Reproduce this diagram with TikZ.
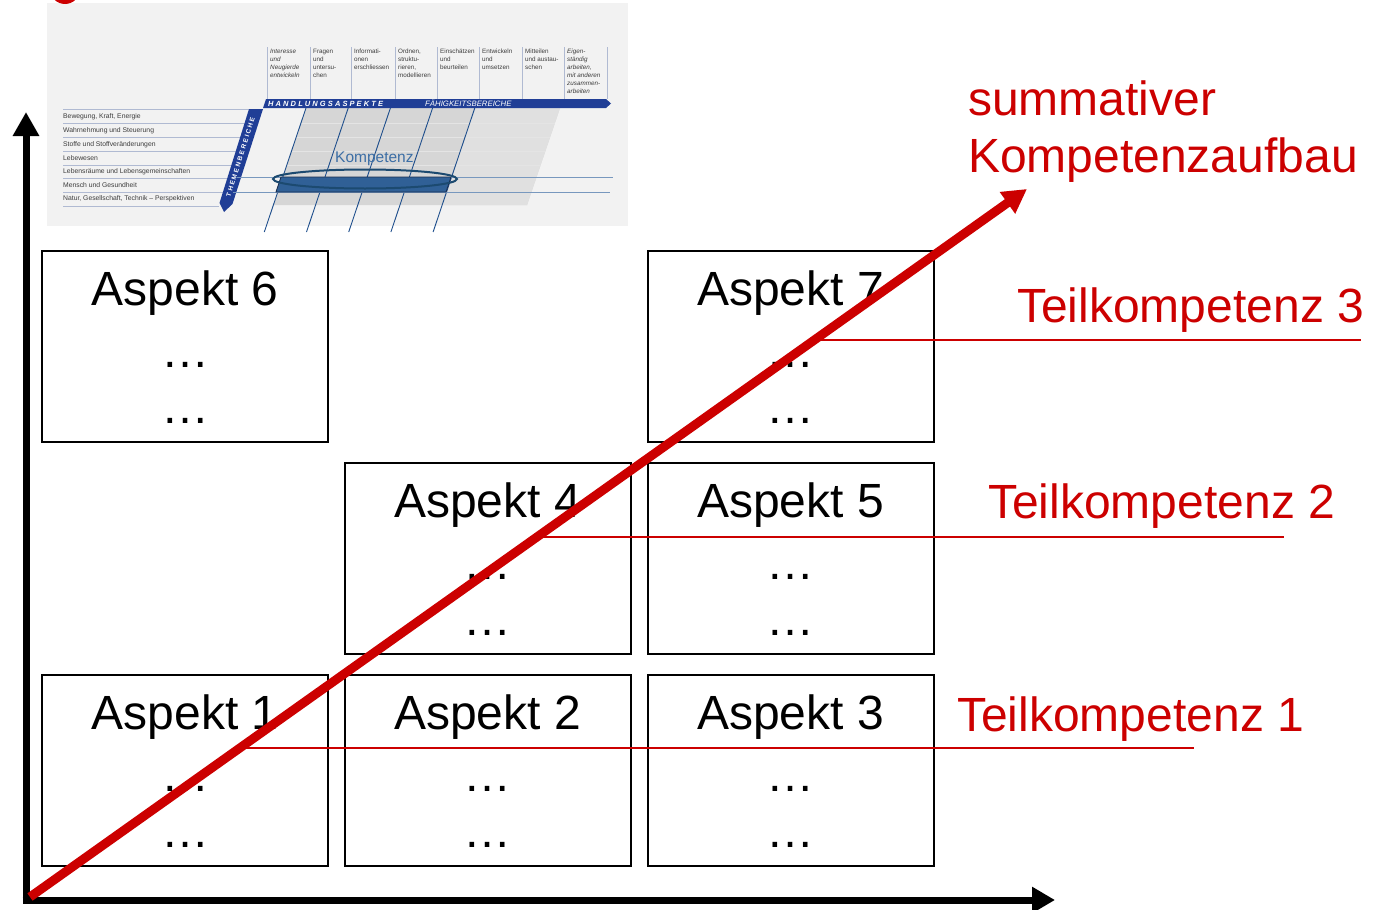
\documentclass[tikz,border=0pt]{standalone}
\usepackage{fontspec}
\setmainfont{Liberation Sans}
\usetikzlibrary{arrows.meta,calc}
\definecolor{kred}{RGB}{204,0,0}
\definecolor{insetbg}{RGB}{242,242,242}
\definecolor{grayA}{RGB}{214,214,214}
\definecolor{grayB}{RGB}{224,224,224}
\definecolor{grayline}{RGB}{228,228,228}
\definecolor{sepcol}{RGB}{176,186,210}
\definecolor{barblue}{RGB}{32,62,150}
\definecolor{gridblue}{RGB}{30,78,140}
\definecolor{hlineblue}{RGB}{120,152,190}
\definecolor{bandblue}{RGB}{48,96,150}
\definecolor{bandedge}{RGB}{25,45,80}
\definecolor{ellblue}{RGB}{28,74,112}
\definecolor{kompblue}{RGB}{60,110,165}
\definecolor{smalltext}{RGB}{60,60,60}
\tikzset{
  abox/.style={draw=black, line width=2pt, minimum width=286pt, minimum height=191pt, inner sep=0pt, fill=white},
  atitle/.style={anchor=base, inner sep=0pt, font=\fontsize{48}{58}\selectfont},
  adots/.style={anchor=base, inner sep=0pt, font=\fontsize{48}{58}\selectfont},
  redtext/.style={anchor=base west, inner sep=0pt, text=kred, font=\fontsize{48}{58}\selectfont},
  axis/.style={line width=7pt, black, line join=miter},
  redarrow/.style={line width=9pt, kred, -{Triangle[length=24pt,width=25pt]}},
  redline/.style={line width=1.8pt, kred},
  rowtext/.style={anchor=west, inner sep=0pt, text=smalltext, font=\fontsize{6.8}{8}\selectfont},
  coltext/.style={anchor=north west, inner sep=0pt, align=left, text=smalltext, font=\fontsize{6.3}{7.9}\selectfont},
  sepline/.style={sepcol, line width=0.9pt},
}
\begin{document}
\begin{tikzpicture}[x=1pt,y=-1pt]
\useasboundingbox (0,0) rectangle (1376,910);
% ---------------- inset (Kompetenzmodell) ----------------
\fill[insetbg] (47,3) rectangle (628,226);
\fill[kred] (65,-11) circle (15);
% gray matrix area
\fill[grayA] (306,108) -- (560,108) -- (527,205) -- (273.4,205) -- cycle;
\fill[grayB] (475,108) -- (560,108) -- (527,205) -- (442,205) -- cycle;
\foreach \y in {123,137,151,165} {
  \draw[grayline, line width=0.8pt] ({306-0.336*(\y-108)},\y) -- ({560-0.34*(\y-108)},\y);
}
% row separators
\foreach \y in {109,123,137,151,165,178,192,206} {
  \draw[sepline] (63,\y) -- ({249-0.31*(\y-109)},\y);
}
% row texts
\node[rowtext] (r1) at (63,116.5) {Bewegung, Kraft, Energie};
\node[rowtext] (r2) at (63,130.5) {Wahrnehmung und Steuerung};
\node[rowtext] (r3) at (63,144.5) {Stoffe und Stoffveränderungen};
\node[rowtext] (r4) at (63,158) {Lebewesen};
\node[rowtext] (r5) at (63,171.5) {Lebensräume und Lebensgemeinschaften};
\node[rowtext] (r6) at (63,185) {Mensch und Gesundheit};
\node[rowtext] (r7) at (63,199) {Natur, Gesellschaft, Technik – Perspektiven};
% column separators
\foreach \x in {267,310,351,395,437,479,522,564,607} {
  \draw[sepline] (\x,47) -- (\x,99);
}
% column texts
\node[coltext, font=\fontsize{6.3}{7.9}\selectfont\itshape] (c1) at (270,49) {Interesse\\und\\Neugierde\\entwickeln};
\node[coltext] (c2) at (313,49) {Fragen\\und\\untersu-\\chen};
\node[coltext] (c3) at (354,49) {Informati-\\onen\\erschliessen};
\node[coltext] (c4) at (398,49) {Ordnen,\\struktu-\\rieren,\\modellieren};
\node[coltext] (c5) at (440,49) {Einschätzen\\und\\beurteilen};
\node[coltext] (c6) at (482,49) {Entwickeln\\und\\umsetzen};
\node[coltext] (c7) at (525,49) {Mitteilen\\und austau-\\schen};
\node[coltext, font=\fontsize{6.3}{7.9}\selectfont\itshape] (c8) at (567,49) {Eigen-\\ständig\\arbeiten,\\mit anderen\\zusammen-\\arbeiten};
% header bar
\fill[barblue] (266,99) -- (606,99) -- (611,103.5) -- (606,108) -- (263,108) -- cycle;
\node[anchor=west, inner sep=0pt, text=white, font=\fontsize{7.5}{8}\selectfont\bfseries\itshape\addfontfeature{LetterSpace=28}] (hand) at (268,103.7) {HANDLUNGSASPEKTE};
\node[anchor=west, inner sep=0pt, text=white, font=\fontsize{7.8}{8}\selectfont\itshape] (faeh) at (425,103.7) {FÄHIGKEITSBEREICHE};
% themen bar
\fill[barblue] (249,109) -- (263,109) -- (232.5,204) -- (224,212) -- (219.5,203) -- cycle;
\node[inner sep=0pt, text=white, rotate=72.8, font=\fontsize{6.5}{7}\selectfont\bfseries\addfontfeature{LetterSpace=26}] (them) at (240.5,157) {THEMENBEREICHE};
% slanted grid lines
\foreach \k in {0,...,4} {
  \draw[gridblue, line width=0.9pt] ({306+42.2*\k},108) -- ({264.3+42.2*\k},232);
}
% horizontal lines and band
\draw[hlineblue, line width=1pt] (237,177) -- (613,177);
\draw[hlineblue, line width=1pt] (233,192) -- (610,192);
\filldraw[fill=bandblue, draw=bandedge, line width=0.8pt] (281,177) -- (451,177) -- (446,192) -- (276,192) -- cycle;
\draw[ellblue, line width=2pt] (365,179) ellipse [x radius=92, y radius=9.5];
\node[anchor=base west, inner sep=0pt, text=kompblue, font=\fontsize{15.5}{17}\selectfont] (komp) at (335,162) {Kompetenz};
% ---------------- axes ----------------
\coordinate (O) at (26,900);
\coordinate (ytip) at (26,112);
\coordinate (xtip) at (1055,900);
\draw[axis, -{Triangle[length=24pt,width=25pt]}] (O) -- (ytip);
\draw[axis, -{Triangle[length=23pt,width=25pt]}] (22.5,900) -- (xtip);
% ---------------- boxes ----------------
\foreach \n/\cx/\cy in {1/185/770.5, 2/487.5/770.5, 3/790.5/770.5, 4/487.5/558.5, 5/790.5/558.5, 6/185/346.5, 7/790.5/346.5} {
  \node[abox] (a\n) at (\cx,\cy) {};
  \node[atitle] (a\n t) at ([yshift=-55pt]a\n.north) {Aspekt \n};
  \node[adots] (a\n d1) at ([yshift=-117pt]a\n.north) {…};
  \node[adots] (a\n d2) at ([yshift=-173pt]a\n.north) {…};
}
% ---------------- red labels ----------------
\node[redtext] (sum1) at (968,115) {summativer};
\node[redtext] (sum2) at (968,172) {Kompetenzaufbau};
\node[redtext] (tk3) at (1017,322) {Teilkompetenz 3};
\node[redtext] (tk2) at (988,518) {Teilkompetenz 2};
\node[redtext] (tk1) at (957,731) {Teilkompetenz 1};
\coordinate (t3s) at (820,340);  \coordinate (t3e) at (1361,340);
\coordinate (t2s) at (538,537);  \coordinate (t2e) at (1284,537);
\coordinate (t1s) at (242,748);  \coordinate (t1e) at (1194,748);
\draw[redline] (t3s) -- (t3e);
\draw[redline] (t2s) -- (t2e);
\draw[redline] (t1s) -- (t1e);
% ---------------- red arrow ----------------
\coordinate (rs) at (30,897);
\coordinate (rt) at (1027,189);
\draw[redarrow] (rs) -- (rt);
\end{tikzpicture}
\end{document}
